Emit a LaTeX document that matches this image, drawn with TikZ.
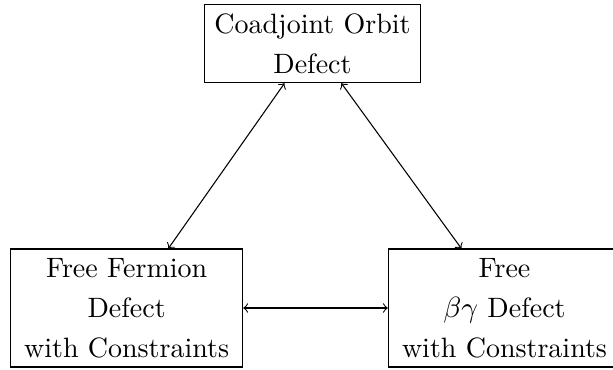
\documentclass[tikz,border=0pt]{standalone}
\begin{document}
\begin{tikzpicture}[x=0.375pt,y=-0.375pt,
  box/.style={draw, rectangle, align=center, inner sep=0pt, line width=0.4pt,
    font=\fontsize{10.5}{15}\selectfont},
  bigbox/.style={box, minimum width=87.1pt, minimum height=44.25pt},
  topbox/.style={box, minimum width=81.3pt, minimum height=29.5pt},
  link/.style={<->, line width=0.4pt}]
\useasboundingbox (0,0) rectangle (613,370);
\node[topbox] (T) at (312.5,43.4) {Coadjoint Orbit\\Defect};
\node[bigbox] (L) at (126.6,308) {Free Fermion\\Defect\\with Constraints};
\node[bigbox] (R) at (504.5,308) {Free\\$\beta\gamma$ Defect\\with Constraints};
\draw[link] (L) -- (T);
\draw[link] (R) -- (T);
\draw[link] (L) -- (R);
\end{tikzpicture}
\end{document}
